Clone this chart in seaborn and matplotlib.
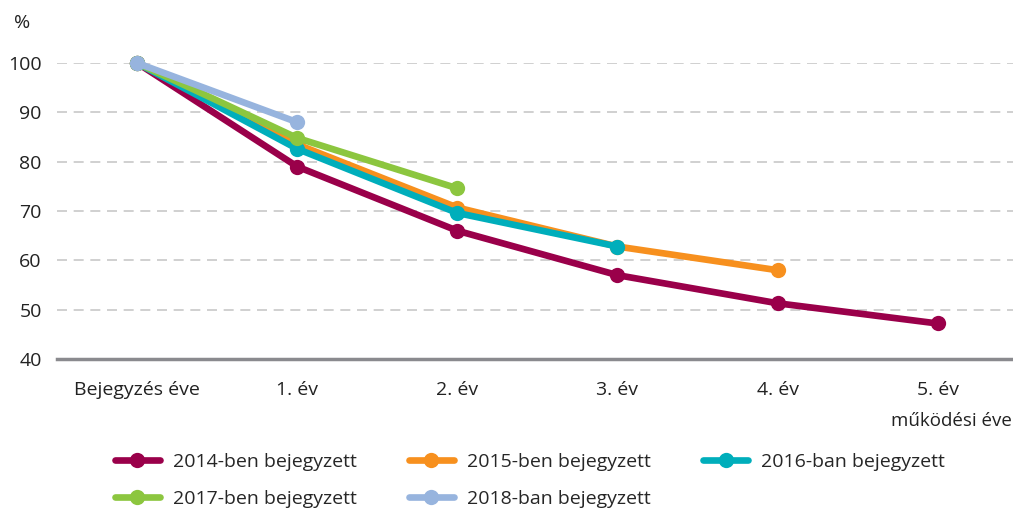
import matplotlib
matplotlib.use("Agg")
import matplotlib.pyplot as plt
from matplotlib.lines import Line2D
import seaborn as sns
import pandas as pd

categories = ["Bejegyzés éve", "1. év", "2. év", "3. év", "4. év", "5. év"]
s2014 = [100, 79.0, 66.0, 57.0, 51.3, 47.2]
s2015 = [100, 83.5, 70.7, 62.8, 58.0]
s2016 = [100, 82.6, 69.6, 62.8]
s2017 = [100, 84.8, 74.6]
s2018 = [100, 88.0]
series_names = ["2014-ben bejegyzett", "2015-ben bejegyzett", "2016-ban bejegyzett",
                "2017-ben bejegyzett", "2018-ban bejegyzett"]
series_values = [s2014, s2015, s2016, s2017, s2018]
colors = ["#9A004A", "#F7901E", "#00AEBB", "#8CC63F", "#97B4DE"]
yticks = [40, 50, 60, 70, 80, 90, 100]

sns.set_theme(style="white")
plt.rcParams["font.family"] = ["Open Sans", "DejaVu Sans"]

fig = plt.figure(figsize=(10.13, 5.12), dpi=100)
ax = fig.add_axes([0.0563, 0.2988, 0.9437, 0.5781])

rows = []
for name, vals in zip(series_names, series_values):
    for i, v in enumerate(vals):
        rows.append({"series": name, "x": i, "y": v})
df = pd.DataFrame(rows)

for name, col in zip(series_names, colors):
    sub = df[df["series"] == name]
    sns.lineplot(data=sub, x="x", y="y", ax=ax, color=col, linewidth=4.8,
                 marker="o", markersize=11, markeredgewidth=0, clip_on=False,
                 legend=False, zorder=3)

ax.set_xlim(-0.5, 5.47)
ax.set_ylim(40, 100)
ax.set_yticks(yticks)
ax.set_yticklabels([str(t) for t in yticks], fontsize=14, color="#222222")
ax.set_xticks(range(len(categories)))
ax.set_xticklabels(categories, fontsize=14, color="#222222")
ax.set_xlabel("")
ax.set_ylabel("")
for t in yticks[1:]:
    ax.axhline(t, color="#c8c8c8", linewidth=1.2, linestyle=(0, (6, 4)), zorder=1)
for s in ["top", "right", "left"]:
    ax.spines[s].set_visible(False)
ax.spines["bottom"].set_color("#8a8a8e")
ax.spines["bottom"].set_linewidth(2.5)
ax.tick_params(axis="x", direction="out", length=9, width=1.5, color="#8a8a8e", pad=7)
ax.tick_params(axis="y", length=0, pad=11)

fig.text(0.022, 0.955, "%", fontsize=14, color="#222222", ha="center", va="center")
fig.text(0.999, 0.178, "működési éve", fontsize=13.5, color="#222222", ha="right", va="center")

handles = [Line2D([0], [0], color=c, linewidth=4.8, marker="o", markersize=11,
                  markeredgewidth=0) for c in colors]
order = [0, 3, 1, 4, 2]
fig.legend([handles[i] for i in order], [series_names[i] for i in order],
           ncol=3, loc="upper left", bbox_to_anchor=(0.1135, 0.115), frameon=False,
           fontsize=14, handlelength=2.3, handletextpad=0.67, columnspacing=2.7,
           labelspacing=0.95, borderaxespad=0, borderpad=0)

fig.savefig("out.png", dpi=100)
